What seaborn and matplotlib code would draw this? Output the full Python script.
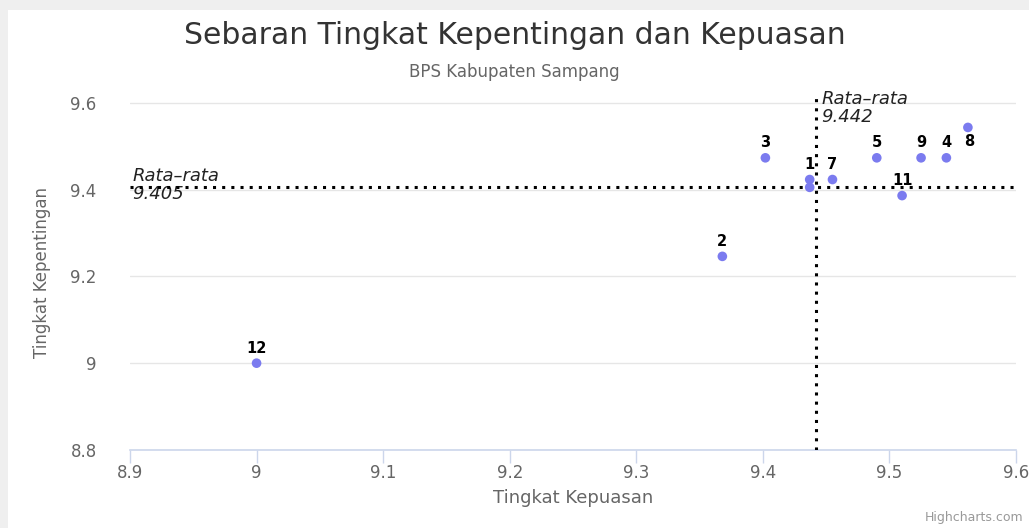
import pandas as pd
import matplotlib.pyplot as plt
import matplotlib.patches as mpatches
import seaborn as sns

# values
item_ids = ['12', '2', '3', '1', '', '7', '5', '9', '4', '8', '11']
kepuasan = [9.000, 9.368, 9.402, 9.437, 9.437, 9.455, 9.490, 9.525, 9.545, 9.562, 9.510]
kepentingan = [9.000, 9.246, 9.473, 9.423, 9.405, 9.423, 9.473, 9.473, 9.473, 9.543, 9.386]
mean_x = 9.442
mean_y = 9.405
x_ticks = [8.9, 9.0, 9.1, 9.2, 9.3, 9.4, 9.5, 9.6]
x_ticklabels = ['8.9', '9', '9.1', '9.2', '9.3', '9.4', '9.5', '9.6']
y_ticks = [8.8, 9.0, 9.2, 9.4, 9.6]
y_ticklabels = ['8.8', '9', '9.2', '9.4', '9.6']

df = pd.DataFrame({'id': item_ids, 'x': kepuasan, 'y': kepentingan})

sns.set_style("white")
plt.rcParams['font.family'] = ['DejaVu Sans']

fig = plt.figure(figsize=(10.29, 5.28), dpi=100, facecolor='#efefef')
# white card like the highcharts container (drawn behind the axes)
fig.patches.append(mpatches.Rectangle((8 / 1029, 0), 1, 1 - 10 / 528, transform=fig.transFigure,
                                      facecolor='white', edgecolor='none', zorder=-5))
ax = fig.add_axes([130 / 1029, 1 - 450 / 528, 886 / 1029, (450 - 94) / 528])
ax.set_facecolor('none')

sns.scatterplot(x='x', y='y', data=df, ax=ax, color='#7b7bef', s=48, edgecolor='none', zorder=5)

# point labels (8 sits below its marker, as in highcharts)
for _, row in df.iterrows():
    if row['id'] == '':
        continue
    if row['id'] == '8':
        ax.annotate(row['id'], (row['x'], row['y']), xytext=(1, -5), textcoords='offset points',
                    ha='center', va='top', fontsize=10.5, fontweight='bold', color='black', zorder=6)
    else:
        ax.annotate(row['id'], (row['x'], row['y']), xytext=(0, 5.5), textcoords='offset points',
                    ha='center', va='bottom', fontsize=10.5, fontweight='bold', color='black', zorder=6)

# mean lines
ax.axvline(mean_x, color='black', linestyle=(0, (1, 2)), linewidth=2.2, zorder=4)
ax.axhline(mean_y, color='black', linestyle=(0, (1, 2)), linewidth=2.2, zorder=4)
ax.text(mean_x + 0.004, 9.629, 'Rata\u2013rata\n' + str(mean_x), fontsize=13, fontstyle='italic',
        ha='left', va='top', color='#222222', linespacing=1.0)
ax.text(8.902, mean_y + 0.046, 'Rata\u2013rata\n' + str(mean_y), fontsize=13, fontstyle='italic',
        ha='left', va='top', color='#222222', linespacing=1.0)

ax.set_xlim(8.9, 9.6)
ax.set_ylim(8.8, 9.62)
ax.set_xticks(x_ticks)
ax.set_xticklabels(x_ticklabels)
ax.set_yticks(y_ticks)
ax.set_yticklabels(y_ticklabels)
ax.tick_params(axis='x', bottom=True, colors='#ccd6eb', labelcolor='#666666', labelsize=12,
               length=9, width=1, direction='out', pad=1)
ax.tick_params(axis='y', left=False, labelcolor='#666666', labelsize=12, length=0, pad=24)
ax.grid(axis='y', color='#e6e6e6', linewidth=1)
ax.grid(axis='x', visible=False)
for side in ['top', 'right', 'left']:
    ax.spines[side].set_visible(False)
ax.spines['bottom'].set_color('#ccd6eb')
ax.spines['bottom'].set_linewidth(1.2)

ax.set_xlabel('Tingkat Kepuasan', fontsize=13, color='#666666', labelpad=5)
ax.set_ylabel('Tingkat Kepentingan', fontsize=12, color='#666666', labelpad=14)

fig.text(0.5, 1 - 36 / 528, 'Sebaran Tingkat Kepentingan dan Kepuasan', ha='center', va='center',
         fontsize=21.5, color='#333333')
fig.text(0.5, 1 - 72 / 528, 'BPS Kabupaten Sampang', ha='center', va='center',
         fontsize=12, color='#666666')
fig.text(1023 / 1029, 1 - 518 / 528, 'Highcharts.com', ha='right', va='center',
         fontsize=9, color='#999999')

plt.savefig('out.png', dpi=100)
